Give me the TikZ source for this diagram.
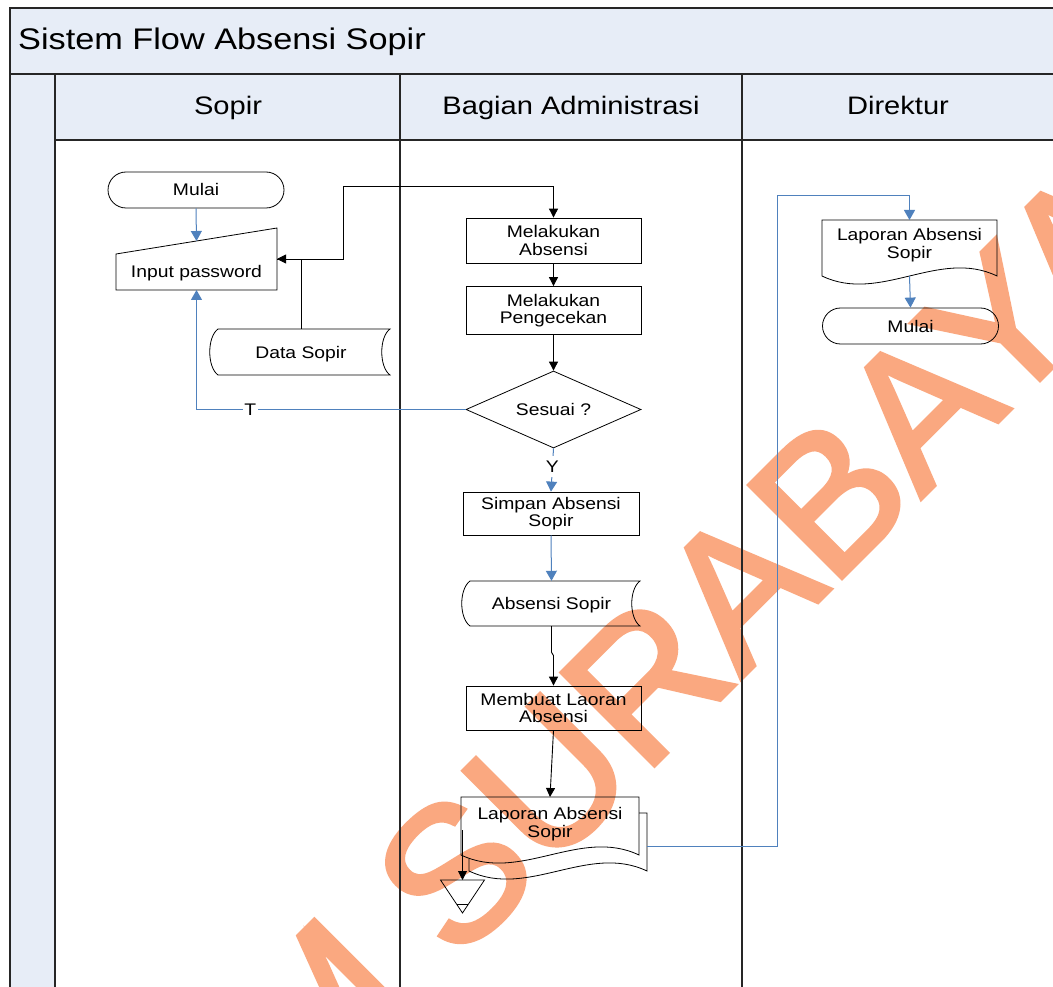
\documentclass[tikz,border=0pt]{standalone}
\usepackage{fontspec}
\setmainfont{Liberation Sans}[FakeStretch=1.15]
\newfontfamily\wmfont{Liberation Sans}[FakeBold=2.2]
\usetikzlibrary{arrows.meta,shapes.misc,shapes.geometric,calc}
\definecolor{lanefill}{RGB}{231,237,247}
\definecolor{conb}{RGB}{79,129,189}
\definecolor{wmark}{RGB}{250,168,128}
\tikzset{
  shp/.style={draw=black, line width=0.8pt, fill=none},
  txt/.style={font=\fontsize{16.8}{17.5}\selectfont, align=center, inner sep=0pt},
  one/.style={text height=15pt, text depth=3pt},
  proc/.style={shp, txt, minimum width=175pt, minimum height=44pt},
  term/.style={shp, txt, one, rounded rectangle, minimum width=176pt, minimum height=36pt},
  dec/.style={shp, txt, one, diamond, minimum width=175pt, minimum height=77pt, aspect=2.27},
  ghost/.style={draw=none, inner sep=0pt, outer sep=0pt},
  bconn/.style={draw=conb, line width=1pt, -{Triangle[length=10pt,width=11pt]}, fill=none},
  kconn/.style={draw=black, line width=0.9pt, -{Triangle[length=9pt,width=9pt]}, fill=none},
  lbl/.style={txt, one, fill=white, inner sep=1.5pt},
  lanebox/.style={fill=lanefill, draw=black!85, line width=1.4pt},
  laneline/.style={draw=black!85, line width=1.6pt},
  head/.style={font=\fontsize{25.3}{26}\selectfont, inner sep=0pt, anchor=base}
}
\begin{document}
\begin{tikzpicture}[x=1pt,y=-1pt]
\path[use as bounding box] (0,0) rectangle (1053,987);
\clip (0,0) rectangle (1053,987);
\fill[white] (0,0) rectangle (1053,987);

% ---- swimlane frame ----
\draw[lanebox] (10,8) rectangle (1070,74);
\draw[lanebox] (10,74) rectangle (55,1010);
\draw[lanebox] (55,74) rectangle (1070,140);

% ---- watermark (under the drawing) ----
\node[anchor=base west, rotate=45, inner sep=0pt, text=wmark,
      font=\wmfont\fontsize{191}{191}\selectfont] (wm) at (-99.5,1519.5) {STIKOM SURABAYA};

\draw[laneline] (400,74) -- (400,1010);
\draw[laneline] (742,74) -- (742,1010);
\draw[laneline] (55,140) -- (55,1010);

\node[anchor=base west, font=\fontsize{29.8}{30}\selectfont, inner sep=0pt] (title) at (18,50) {Sistem Flow Absensi Sopir};
\node[head] (hsopir) at (228,115) {Sopir};
\node[head] (hadm) at (571,115) {Bagian Administrasi};
\node[head] (hdir) at (898,115) {Direktur};

% ---- Sopir lane ----
\node[term] (m1) at (196,190) {Mulai};
\draw[shp] (116,254) -- (277,228) -- (277,290) -- (116,290) -- cycle;
\node[ghost, minimum width=161pt, minimum height=62pt] (ip) at (196.5,259) {};
\node[txt, one] (iptext) at (196.5,272) {Input password};
\coordinate (iptop) at (196.5,241);

\draw[shp] (218,329) -- (390,329) .. controls (379,337) and (379,367) .. (390,375)
  -- (218,375) .. controls (207,367) and (207,337) .. (218,329) -- cycle;
\node[txt, one, minimum width=172pt, minimum height=46pt] (ds) at (301,352) {Data Sopir};

% ---- Bagian Administrasi lane ----
\node[proc, minimum height=45pt] (ma) at (553.5,240.5) {Melakukan\\Absensi};
\node[proc, minimum height=48pt] (mp) at (553.5,310.5) {Melakukan\\Pengecekan};
\node[dec] (d) at (553.5,409.5) {Sesuai ?};
\node[proc, minimum width=176pt, minimum height=43pt] (sim) at (551,513.5) {Simpan Absensi\\Sopir};

\draw[shp] (470,581) -- (640,581) .. controls (629,589) and (629,618) .. (640,626)
  -- (470,626) .. controls (459,618) and (459,589) .. (470,581) -- cycle;
\node[txt, one, minimum width=170pt, minimum height=45pt] (as) at (551.5,603.5) {Absensi Sopir};

\node[proc, minimum height=44pt] (mem) at (553.5,708) {Membuat Laoran\\Absensi};

% multi-document: back sheet (visible part), then front sheet
\draw[shp] (639,813) -- (647,813) -- (647,871) .. controls (588,843) and (528,899) .. (469,871) -- (469,858.5);
\draw[shp] (461,797) -- (639,797) -- (639,855) .. controls (580,827) and (520,883) .. (461,855) -- cycle;
\node[ghost, minimum width=178pt, minimum height=66pt] (lapb) at (558,846) {};
\node[ghost, minimum width=178pt, minimum height=58pt] (lapf) at (550,826) {};
\node[txt] (lapftext) at (550,824) {Laporan Absensi\\Sopir};
\coordinate (offst) at (462.5,830);

% off-page reference
\node[ghost, minimum width=44pt, minimum height=33pt] (op) at (462.5,896.5) {};
\draw[shp] (op.north west) -- (op.north east) -- (op.south) -- cycle;
\draw[line width=0.8pt] (457,904) -- (468,904);

% ---- Direktur lane ----
\draw[shp] (822,220) -- (997,220) -- (997,276) .. controls (939,248) and (880,304) .. (822,276) -- cycle;
\node[ghost, minimum width=175pt, minimum height=56pt] (dd) at (909.5,248) {};
\node[txt] (ddtext) at (909.5,245) {Laporan Absensi\\Sopir};
\node[term] (m2) at (910.5,326) {Mulai};

% ---- connectors ----
\coordinate (c1) at (343,186);
\coordinate (c2) at (777.5,196);
\draw[bconn] (m1.south) -- (iptop);
\draw[kconn] (ds.north) |- (ip.east);
\draw[kconn] (ip.east) -| (c1) -| (ma.north);
\draw[kconn] (ma.south) -- (mp.north);
\draw[kconn] (mp.south) -- (d.north);
\draw[bconn] (d.west) -| node[lbl, pos=0.4] (tlab) {T} (ip.south);
\draw[bconn] (d.south) -- node[lbl, pos=0.43] (ylab) {Y} (sim.north);
\draw[bconn] (sim.south) -- (as.north);
\draw[kconn] (as.south) -- ++(0,26) -- ($(mem.north)+(0,-30)$) -- (mem.north);
\draw[kconn] (mem.south) -- (lapf.north);
\draw[kconn] (offst) -- (op.north);
\draw[bconn] (lapb.east) -| (c2) -| (dd.north);
\draw[bconn] (dd.south) -- (m2.north);
\end{tikzpicture}
\end{document}
